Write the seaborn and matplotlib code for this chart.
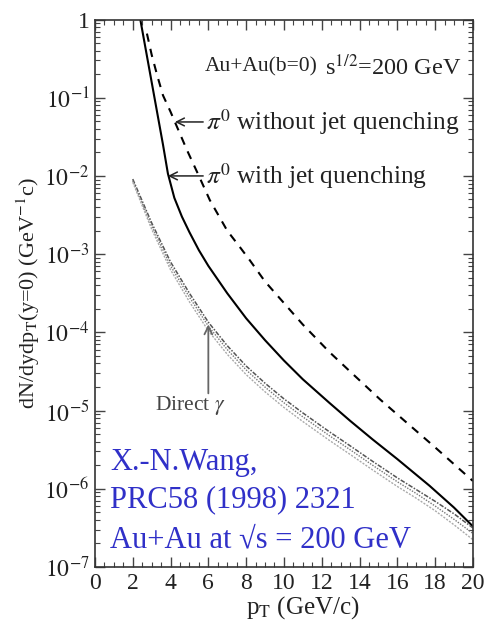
import matplotlib
matplotlib.use('Agg')
import matplotlib.pyplot as plt
import matplotlib.ticker as mticker
import seaborn as sns
import numpy as np

# --- data (pT in GeV/c, log10 of dN/dydpT) ---
pt_quench = [2.4, 2.7, 3.0, 3.3, 3.6, 3.86, 4.2, 4.6, 5.0, 5.5, 6.0, 7.0, 8.0, 9.0,
             10.0, 11.0, 12.4, 13.5, 14.7, 16.0, 17.7, 19.0, 20.0]
log_quench = [0.0, -0.4, -0.8, -1.2, -1.6, -1.97, -2.28, -2.52, -2.72, -2.95, -3.15,
              -3.5, -3.82, -4.1, -4.36, -4.6, -4.9, -5.13, -5.37, -5.62, -5.96,
              -6.24, -6.48]

pt_noquench = [2.75, 3.0, 3.3, 3.6, 4.0, 4.23, 4.87, 5.5, 6.08, 7.0, 7.67, 8.2, 9.0,
               9.8, 11.0, 12.4, 13.5, 15.1, 16.0, 17.0, 18.0, 19.3, 20.0]
log_noquench = [-0.18, -0.45, -0.72, -0.97, -1.18, -1.31, -1.67, -2.0, -2.31, -2.7,
                -2.91, -3.08, -3.35, -3.57, -3.9, -4.25, -4.5, -4.86, -5.05, -5.26,
                -5.47, -5.75, -5.9]

pt_gamma = [2.0, 3.0, 4.0, 5.0, 6.0, 7.0, 8.0, 9.0, 10.0, 11.0, 12.4, 13.5, 14.7,
            16.0, 17.0, 18.0, 19.0, 20.0]
log_gamma_a = [-2.04, -2.6, -3.1, -3.5, -3.87, -4.17, -4.43, -4.65, -4.85, -5.03,
               -5.27, -5.45, -5.65, -5.86, -6.01, -6.16, -6.32, -6.5]
log_gamma_b = [-2.06, -2.64, -3.15, -3.55, -3.92, -4.22, -4.48, -4.7, -4.9, -5.08,
               -5.32, -5.5, -5.7, -5.91, -6.06, -6.22, -6.39, -6.57]
log_gamma_c = [-2.08, -2.68, -3.2, -3.61, -3.98, -4.28, -4.54, -4.76, -4.96, -5.14,
               -5.38, -5.56, -5.76, -5.97, -6.12, -6.28, -6.46, -6.65]

ytick_exp = [0, -1, -2, -3, -4, -5, -6, -7]
xtick_vals = [0, 2, 4, 6, 8, 10, 12, 14, 16, 18, 20]

# --- styling ---
sns.set_theme(style='ticks')
plt.rcParams['font.family'] = ['Liberation Serif', 'DejaVu Serif']
plt.rcParams['mathtext.fontset'] = 'stix'
plt.rcParams['axes.edgecolor'] = '#333333'
plt.rcParams['axes.linewidth'] = 1.2

fig = plt.figure(figsize=(4.87, 6.25), dpi=100)
ax = fig.add_axes([0.195, 0.0928, 0.776, 0.876])

sns.lineplot(x=pt_quench, y=10 ** np.array(log_quench), ax=ax, color='black', lw=1.5)
sns.lineplot(x=pt_noquench, y=10 ** np.array(log_noquench), ax=ax, color='black', lw=1.5,
             linestyle=(0, (4, 3.5)))
sns.lineplot(x=pt_gamma, y=10 ** np.array(log_gamma_a), ax=ax, color='#555555', lw=1.1,
             linestyle=(0, (3, 1, 1, 1)))
sns.lineplot(x=pt_gamma, y=10 ** np.array(log_gamma_b), ax=ax, color='#777777', lw=1.0,
             linestyle=(0, (1, 1)))
sns.lineplot(x=pt_gamma, y=10 ** np.array(log_gamma_c), ax=ax, color='#aaaaaa', lw=1.0,
             linestyle=(0, (1.5, 1)))

ax.set_yscale('log')
ax.set_xlim(0, 20)
ax.set_ylim(1e-7, 1)

ax.set_xticks(xtick_vals)
ax.xaxis.set_minor_locator(mticker.MultipleLocator(0.5))
ax.set_yticks([10.0 ** e for e in ytick_exp])
ax.set_yticklabels(['1'] + [r'$10^{%d}$' % e for e in ytick_exp[1:]])
ax.yaxis.set_minor_locator(mticker.LogLocator(base=10, subs=np.arange(2, 10), numticks=20))
ax.yaxis.set_minor_formatter(mticker.NullFormatter())
ax.tick_params(which='both', direction='in', top=True, right=True, color='#444444')
ax.tick_params(which='major', length=7, width=1, labelsize=17, pad=4)
ax.tick_params(which='minor', length=3.5, width=0.8)
for lab in ax.get_xticklabels() + ax.get_yticklabels():
    lab.set_color('#222222')

ax.set_xlabel(r'p$_\mathrm{T}$ (GeV/c)', fontsize=18, color='#222222')
ax.xaxis.set_label_coords(0.55, -0.05)
ax.set_ylabel(r'dN/dydp$_\mathrm{T}$(y=0) (GeV$^{-1}$c)', fontsize=16, color='#222222')
ax.yaxis.set_label_coords(-0.14, 0.5)

# annotations
ax.text(5.8, 10 ** -0.61, 'Au+Au(b=0)', fontsize=15.5, va='center', ha='left',
        color='#222222')
ax.text(12.15, 10 ** -0.61, r's$^{1/2}$=200 GeV', fontsize=17.5, va='center', ha='left',
        color='#222222')
ax.annotate(r'$\pi^0$ without jet quenching', xy=(4.23, 10 ** -1.31),
            xytext=(5.9, 10 ** -1.31), fontsize=18.3, va='center', ha='left',
            color='#222222',
            arrowprops=dict(arrowstyle='->', color='#222222', lw=1.1,
                            shrinkA=0, shrinkB=0, mutation_scale=14))
ax.annotate(r'$\pi^0$ with jet quenching', xy=(3.86, 10 ** -2.0),
            xytext=(5.9, 10 ** -2.0), fontsize=18.3, va='center', ha='left',
            color='#222222',
            arrowprops=dict(arrowstyle='->', color='#222222', lw=1.1,
                            shrinkA=0, shrinkB=0, mutation_scale=14))
ax.annotate('', xy=(6.0, 10 ** -3.9), xytext=(6.0, 10 ** -4.78),
            arrowprops=dict(arrowstyle='->', color='#666666', lw=1.3,
                            shrinkA=0, shrinkB=0, mutation_scale=14))
ax.text(5.05, 10 ** -4.93, r'Direct $\gamma$', fontsize=15.5, va='center', ha='center',
        color='#444444')

blue = '#3030c8'
ax.text(0.04, 0.19, 'X.-N.Wang,', transform=ax.transAxes, fontsize=22, color=blue,
        va='center', ha='left')
ax.text(0.04, 0.122, 'PRC58 (1998) 2321', transform=ax.transAxes, fontsize=22,
        color=blue, va='center', ha='left')
ax.text(0.04, 0.05, 'Au+Au at \u221as = 200 GeV', transform=ax.transAxes, fontsize=22,
        color=blue, va='center', ha='left')

fig.savefig('out.png', dpi=100)
